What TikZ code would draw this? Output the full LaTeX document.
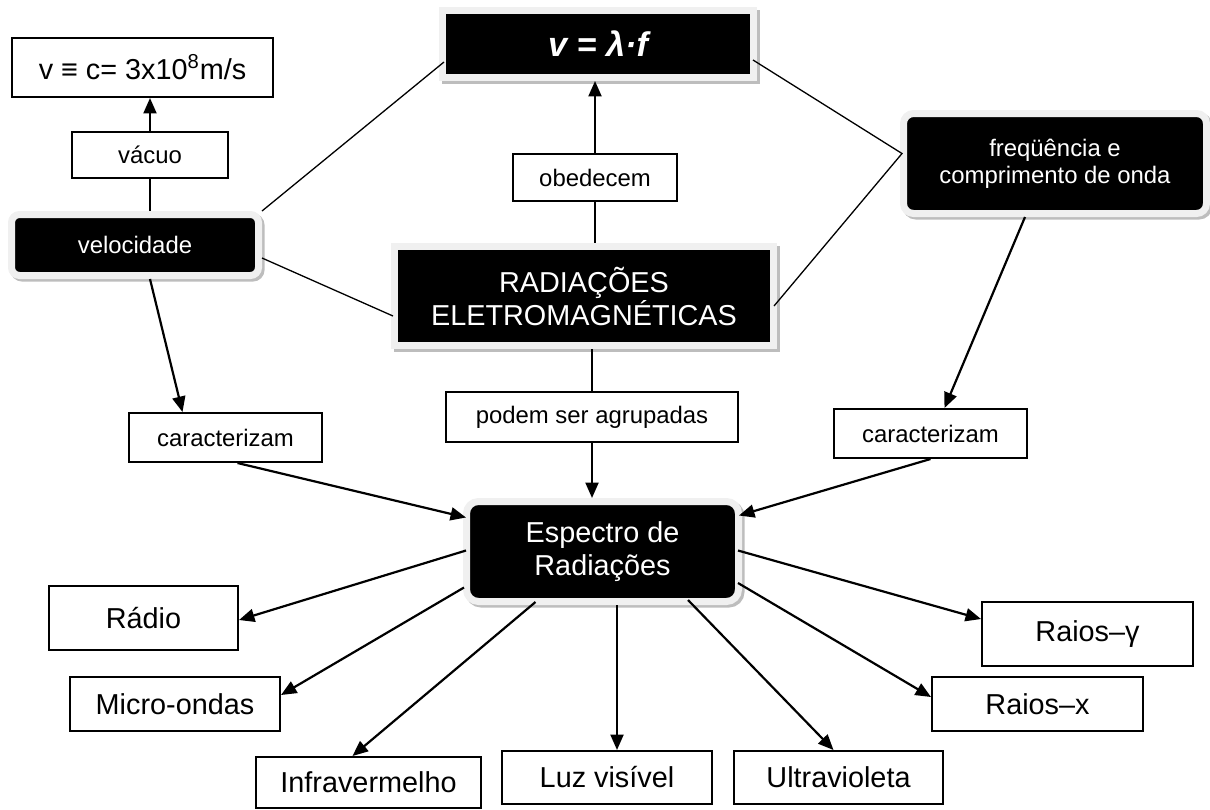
\documentclass[tikz,border=0pt]{standalone}
\usepackage{fontspec}
\setmainfont{Liberation Sans}
\usetikzlibrary{arrows.meta,calc}
\newdimen\pxu \pxu=0.02cm
\definecolor{lightrim}{HTML}{F0F0F0}
\definecolor{shadowgray}{HTML}{BDBDBD}
\begin{document}
\begin{tikzpicture}[x=0.02cm,y=-0.02cm,
  plain/.style={draw=black,line width=2\pxu,fill=white,inner sep=0pt,align=center},
  small/.style={font=\fontsize{13.6}{15.5}\selectfont},
  big/.style={font=\fontsize{16.4}{18.8}\selectfont},
  shaded/.style={fill=black,text=white,draw=lightrim,line width=7\pxu,inner sep=0pt,align=center,
     preaction={draw=shadowgray,line width=7\pxu,transform canvas={shift={(2.5\pxu,-2.5\pxu)}}}},
  arr/.style={line width=2.2\pxu,-{Triangle[length=8.8pt,width=7.4pt]}},
  thinline/.style={line width=1.3\pxu},
]
\useasboundingbox (0,0) rectangle (1210,809);

% nodes
\node[plain,big,minimum width=261\pxu,minimum height=59\pxu] (vc) at (142.5,67.5) {v ≡ c= 3x10\textsuperscript{8}m/s};
\node[plain,small,minimum width=156\pxu,minimum height=46\pxu] (vacuo) at (150,155) {vácuo};
\node[shaded,rounded corners=8\pxu,small,minimum width=247\pxu,minimum height=61\pxu] (vel) at (135,245) {velocidade};
\node[shaded,minimum width=311\pxu,minimum height=67\pxu,font=\fontsize{19.5}{22}\selectfont\bfseries\itshape] (formula) at (598,44) {v = λ·f};
\node[plain,small,minimum width=164\pxu,minimum height=47\pxu] (obed) at (595,177.5) {obedecem};
\node[shaded,big,minimum width=379\pxu,minimum height=99\pxu] (rad) at (584,296) {RADIAÇÕES\\ELETROMAGNÉTICAS};
\node[shaded,rounded corners=10\pxu,small,minimum width=303\pxu,minimum height=100\pxu] (freq) at (1055,163.5) {freqüência e\\comprimento de onda};
\node[plain,small,minimum width=292\pxu,minimum height=50\pxu] (podem) at (592,417) {podem ser agrupadas};
\node[plain,small,minimum width=193\pxu,minimum height=49\pxu] (carL) at (225.5,437.5) {caracterizam};
\node[plain,small,minimum width=193\pxu,minimum height=49\pxu] (carR) at (930.5,433.5) {caracterizam};
\node[shaded,rounded corners=12\pxu,big,minimum width=272\pxu,minimum height=100\pxu] (esp) at (602.5,551.5) {Espectro de\\Radiações};
\node[plain,big,minimum width=189\pxu,minimum height=64\pxu] (radio) at (143.5,618) {Rádio};
\node[plain,big,minimum width=210\pxu,minimum height=54\pxu] (micro) at (175,704) {Micro-ondas};
\node[plain,big,minimum width=225\pxu,minimum height=51\pxu] (infra) at (368.5,782.5) {Infravermelho};
\node[plain,big,minimum width=210\pxu,minimum height=53\pxu] (luz) at (607,777.5) {Luz visível};
\node[plain,big,minimum width=209\pxu,minimum height=53\pxu] (ultra) at (838.5,777.5) {Ultravioleta};
\node[plain,big,minimum width=211\pxu,minimum height=54\pxu] (raiosx) at (1037.5,704) {Raios–x};
\node[plain,big,minimum width=211\pxu,minimum height=64\pxu] (raiosg) at (1087.5,634) {Raios–γ};

\coordinate (luzstart) at ($(esp.south)+(14.5,0)$);

% connectors
\draw[arr] (vacuo.north) -- (vacuo.north |- vc.south);
\draw[thinline] (vacuo.south) -- (vacuo.south |- vel.north);
\draw[thinline] (vel.north east) -- ($(formula.west)+(5,18)$);
\draw[thinline] ($(vel.east)+(0,13)$) -- ($(rad.west)+(2,20)$);
\draw[thinline] ($(formula.east)+(-4,16)$) -- ($(freq.west)+(2,-10)$) -- ($(rad.east)+(-3,10)$);
\draw[thinline] (obed.south) -- (obed.south |- rad.north);
\draw[arr] (obed.north) -- (obed.north |- formula.south);
\draw[thinline] (podem.north) -- (podem.north |- rad.south);
\draw[arr] (podem.south) -- (podem.south |- esp.north);
\draw[arr] ($(vel.south)+(15,0)$) -- ($(carL.north)+(-43,0)$);
\draw[arr] ($(carL.south)+(12,0)$) -- ($(esp.west)+(3,-34)$);
\draw[arr] ($(freq.south)+(-30,0)$) -- ($(carR.north)+(14,0)$);
\draw[arr] (carR.south) -- ($(esp.east)+(-3,-36)$);
\draw[arr] ($(esp.west)+(3,-1)$) -- ($(radio.east)+(0,2)$);
\draw[arr] ($(esp.west)+(1,36)$) -- ($(micro.east)+(0,-9)$);
\draw[arr] ($(esp.south)+(-67,-3)$) -- ($(infra.north)+(-16,0)$);
\draw[arr] (luzstart) -- (luzstart |- luz.north);
\draw[arr] ($(esp.south)+(85.5,-5)$) -- ($(ultra.north)+(-5,0)$);
\draw[arr] ($(esp.east)+(-4,31.5)$) -- ($(raiosx.west)+(0,-7)$);
\draw[arr] ($(esp.east)+(-4,-1)$) -- ($(raiosg.west)+(0,-15)$);
\end{tikzpicture}
\end{document}
